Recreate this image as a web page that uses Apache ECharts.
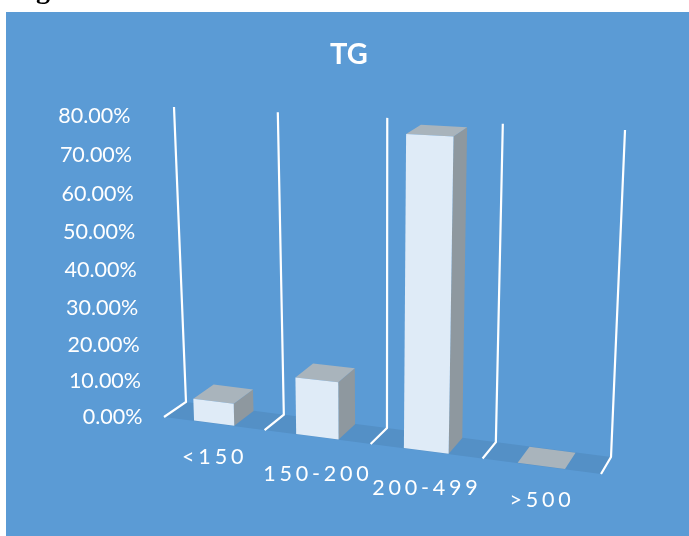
<!DOCTYPE html>
<html>
<head>
<meta charset="utf-8">
<style>html,body{margin:0;padding:0;background:#fff;overflow:hidden}#c{width:689px;height:536px}</style>
<script src="https://cdn.jsdelivr.net/npm/echarts@6/dist/echarts.min.js"></script>
</head>
<body>
<div id="c"></div>
<script>
const categories = ['<150', '150-200', '200-499', '>500'];
const shares = [0.0606, 0.1515, 0.7879, 0];
const tickValues = [0, 0.1, 0.2, 0.3, 0.4, 0.5, 0.6, 0.7, 0.8];
const tickLabels = ['0.00%', '10.00%', '20.00%', '30.00%', '40.00%', '50.00%', '60.00%', '70.00%', '80.00%'];
const categoryBoundaries = [0, 1, 2, 3, 4];

const W = 689, H = 536;
const PANEL = '#5B9BD5', FLOOR = '#5490C6', LINE = '#FFFFFF';
const BAR_FRONT = '#DFEBF7', BAR_TOP = '#A9B4BC', BAR_SIDE = '#8E989F';
const FONT = 'Lato';
const BAR_GAP = 0.3;            // category fraction left empty on each side of a bar
const DEPTH_NEAR = 0.02, DEPTH_FAR = 0.98;
const CATEGORY_DROP = [34, 37, 37, 34];  // label distance below the front floor edge

// Corners of the 3D plot box on screen
const box = {
  frontBottomLeft: [164, 417], frontBottomRight: [601, 474],
  backBottomLeft: [186, 402], backBottomRight: [611, 457],
  frontTopLeft: [152, 116], frontTopRight: [615, 140],
  backTopLeft: [174, 107], backTopRight: [625, 130]
};
const foreshortenX = 0.897, foreshortenY = 0.95;
const mix = (a, b, t) => [a[0] + (b[0] - a[0]) * t, a[1] + (b[1] - a[1]) * t];
const persp = (r, k) => k * r / (1 + (k - 1) * r);

// Project plot fractions (across, depth, height) into the page
function project(s, d, r) {
  const t = persp(s, foreshortenX), w = persp(r, foreshortenY);
  const bottom = mix(mix(box.frontBottomLeft, box.frontBottomRight, t), mix(box.backBottomLeft, box.backBottomRight, t), d);
  const top = mix(mix(box.frontTopLeft, box.frontTopRight, t), mix(box.backTopLeft, box.backTopRight, t), d);
  return mix(bottom, top, w);
}
// Reads a data point through the axes and returns its plot fractions
function fractions(api, x, y) {
  const p = api.coord([x, y]);
  return [p[0] / W, 1 - p[1] / H];
}

function renderFloor(params, api) {
  const [l] = fractions(api, 0, 0), [r] = fractions(api, 4, 0);
  return {
    type: 'polygon', silent: true,
    shape: { points: [project(l, 0, 0), project(r, 0, 0), project(r, 1, 0), project(l, 1, 0)] },
    style: { fill: FLOOR }
  };
}
function renderGridline(params, api) {
  const [s, top] = fractions(api, api.value(0), 0.8);
  return {
    type: 'polyline', silent: true,
    shape: { points: [project(s, 0, 0), project(s, 1, 0), project(s, 1, top)] },
    style: { fill: 'none', stroke: LINE, lineWidth: 2.2, lineJoin: 'miter' }
  };
}
function renderBar(params, api) {
  const i = api.value(0);
  const [a, r] = fractions(api, i + BAR_GAP, api.value(1));
  const [b] = fractions(api, i + 1 - BAR_GAP, 0);
  const n = DEPTH_NEAR, f = DEPTH_FAR;
  const face = (pts, fill) => ({ type: 'polygon', shape: { points: pts }, style: { fill } });
  return {
    type: 'group',
    children: [
      face([project(b, n, 0), project(b, f, 0), project(b, f, r), project(b, n, r)], BAR_SIDE),
      face([project(a, n, r), project(b, n, r), project(b, f, r), project(a, f, r)], BAR_TOP),
      face([project(a, n, 0), project(b, n, 0), project(b, n, r), project(a, n, r)], BAR_FRONT)
    ]
  };
}
function renderTick(params, api) {
  const [s, r] = fractions(api, 0, api.value(0));
  const p = project(s, 0, r);
  return {
    type: 'text', silent: true, x: p[0] - 21.5, y: p[1],
    style: { text: tickLabels[params.dataIndex], fill: '#fff', font: '21.5px ' + FONT, align: 'right', verticalAlign: 'middle' }
  };
}
function renderCategory(params, api) {
  const i = api.value(0);
  const [s] = fractions(api, i + 0.5, 0);
  const p = project(s, 0, 0);
  return {
    type: 'text', silent: true, x: p[0] + 1, y: p[1] + CATEGORY_DROP[i],
    style: { text: categories[i], fill: '#fff', font: '21.5px ' + FONT, align: 'center', verticalAlign: 'middle' }
  };
}

// Category labels are set with wide tracking
const plainFillText = CanvasRenderingContext2D.prototype.fillText;
CanvasRenderingContext2D.prototype.fillText = function (text, x, y) {
  const tracked = categories.includes(text);
  if (tracked) this.letterSpacing = '3.8px';
  plainFillText.call(this, text, x, y);
  if (tracked) this.letterSpacing = '0px';
};

const chart = echarts.init(document.getElementById('c'), null, { renderer: 'canvas' });
chart.setOption({
  animation: false,
  backgroundColor: '#FFFFFF',
  title: {
    text: 'TG', left: 325, top: 35,
    textStyle: { color: '#fff', fontFamily: FONT, fontWeight: 'bold', fontSize: 29 }
  },
  graphic: [
    { type: 'rect', z: -1, shape: { x: 6, y: 12, width: 683, height: 524 }, style: { fill: PANEL } },
    { type: 'text', z: 0, x: 11, y: -23, style: { text: 'Fig', fill: '#000', font: 'bold 28px "Liberation Serif"' } }
  ],
  grid: { left: 0, top: 0, width: W, height: H },
  xAxis: { type: 'value', min: 0, max: 4, interval: 1, show: false },
  yAxis: { type: 'value', min: 0, max: 0.8, interval: 0.1, show: false },
  series: [
    { type: 'custom', coordinateSystem: 'cartesian2d', renderItem: renderFloor, data: [[0, 0]], z: 1 },
    { type: 'custom', coordinateSystem: 'cartesian2d', renderItem: renderGridline, data: categoryBoundaries.map(b => [b, 0.8]), z: 2 },
    { type: 'custom', coordinateSystem: 'cartesian2d', renderItem: renderBar, data: shares.map((v, i) => [i, v]), z: 3 },
    { type: 'custom', coordinateSystem: 'cartesian2d', renderItem: renderTick, data: tickValues.map(v => [v]), encode: { x: [], y: 0 }, z: 4 },
    { type: 'custom', coordinateSystem: 'cartesian2d', renderItem: renderCategory, data: categories.map((c, i) => [i, 0]), z: 4 }
  ]
});
</script>
</body>
</html>
